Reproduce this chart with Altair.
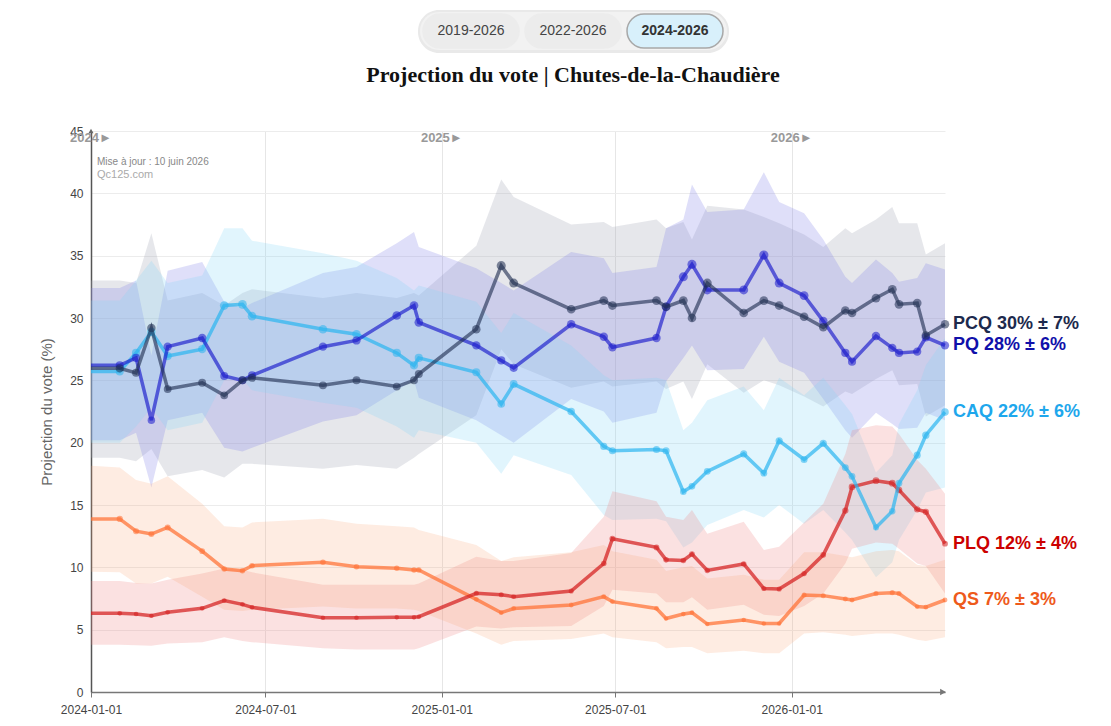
import altair as alt
import pandas as pd

# ---------------- data ----------------
dates = ["2024-01-01", "2024-01-31", "2024-02-17", "2024-03-04", "2024-03-21", "2024-04-26",
         "2024-05-19", "2024-06-07", "2024-06-17", "2024-08-30", "2024-10-04", "2024-11-15",
         "2024-12-03", "2024-12-08", "2025-02-06", "2025-03-04", "2025-03-17", "2025-05-16",
         "2025-06-19", "2025-06-28", "2025-08-13", "2025-08-23", "2025-09-10", "2025-09-19",
         "2025-10-05", "2025-11-12", "2025-12-03", "2025-12-19", "2026-01-14", "2026-02-03",
         "2026-02-26", "2026-03-05", "2026-03-30", "2026-04-16", "2026-04-23", "2026-05-12",
         "2026-05-21", "2026-06-10"]

pcq = [25.96, 25.96, 25.6, 29.2, 24.3, 24.8, 23.8, 25.0, 25.2, 24.6, 25.0, 24.5, 25.0, 25.5,
       29.1, 34.2, 32.8, 30.7, 31.4, 31.0, 31.4, 30.9, 31.4, 30.0, 32.8, 30.4, 31.4, 31.0,
       30.1, 29.25, 30.6, 30.4, 31.6, 32.3, 31.1, 31.2, 28.6, 29.5]
pcq_lo = [18.8, 18.8, 18.5, 19.5, 17.3, 17.8, 17.2, 18.3, 18.3, 17.9, 18.2, 17.9, 18.8, 19.1,
          22.2, 27.5, 26.3, 24.4, 24.9, 24.5, 24.9, 24.3, 24.9, 23.5, 26.3, 24.0, 25.0, 24.6,
          23.7, 22.9, 24.1, 23.9, 25.1, 25.8, 24.6, 24.7, 22.1, 23.0]
pcq_hi = [33.0, 33.0, 32.8, 36.8, 31.4, 32.0, 31.0, 32.0, 32.3, 31.6, 32.0, 31.6, 32.0, 31.8,
          35.8, 41.1, 39.7, 37.5, 37.7, 37.3, 37.9, 37.2, 37.7, 36.3, 39.0, 38.7, 38.1, 37.6,
          36.7, 35.7, 37.2, 36.8, 37.9, 38.9, 37.6, 37.6, 35.1, 36.0]

pq = [26.2, 26.2, 26.8, 21.8, 27.7, 28.4, 25.35, 25.0, 25.4, 27.7, 28.2, 30.2, 31.0, 29.65,
      27.8, 26.6, 26.0, 29.5, 28.5, 27.65, 28.4, 30.9, 33.3, 34.3, 32.25, 32.25, 35.05, 32.8,
      31.8, 29.75, 27.2, 26.5, 28.55, 27.6, 27.2, 27.3, 28.45, 27.8]
pq_lo = [20.2, 20.2, 20.8, 16.4, 21.8, 22.4, 19.6, 19.3, 19.6, 21.7, 22.2, 24.2, 25.0, 23.6,
         21.8, 20.6, 20.0, 23.5, 22.5, 21.6, 22.4, 24.9, 26.8, 27.8, 25.8, 25.9, 28.5, 26.5,
         25.6, 23.5, 21.0, 20.4, 22.4, 21.5, 21.1, 21.2, 22.4, 21.8]
pq_hi = [32.4, 32.4, 33.0, 27.0, 33.8, 34.5, 31.3, 30.8, 31.2, 33.6, 34.1, 36.0, 36.9, 35.7,
         34.0, 32.8, 32.2, 35.3, 34.8, 33.6, 34.1, 37.2, 37.9, 40.7, 38.5, 38.7, 41.7, 39.3,
         38.4, 36.3, 33.3, 32.8, 34.7, 33.6, 32.9, 33.2, 34.4, 33.9]

caq = [25.7, 25.7, 27.2, 28.9, 26.95, 27.5, 31.0, 31.1, 30.15, 29.1, 28.7, 27.2, 26.2, 26.8,
       25.65, 23.1, 24.7, 22.5, 19.7, 19.35, 19.45, 19.35, 16.07, 16.5, 17.7, 19.1, 17.55,
       20.15, 18.65, 19.95, 18.0, 17.3, 13.2, 14.5, 16.75, 19.0, 20.6, 22.45]
caq_lo = [20.0, 20.0, 21.3, 22.8, 21.0, 21.6, 25.0, 25.1, 24.2, 23.2, 22.8, 21.3, 20.4, 21.0,
          20.0, 17.5, 19.0, 17.4, 14.2, 13.8, 13.9, 13.7, 11.6, 12.0, 13.4, 14.6, 14.0, 15.0,
          13.5, 14.6, 12.8, 12.2, 9.2, 10.4, 12.2, 14.6, 16.0, 16.4]
caq_hi = [31.4, 31.4, 33.0, 34.6, 32.8, 33.4, 37.2, 37.2, 36.2, 35.2, 34.6, 33.2, 32.2, 32.6,
          31.3, 28.8, 30.4, 27.8, 25.4, 25.0, 25.2, 25.0, 21.0, 21.6, 23.4, 24.5, 22.6, 25.2,
          23.8, 25.2, 23.0, 22.3, 17.6, 19.0, 21.5, 24.2, 26.2, 28.4]

plq = [6.31, 6.31, 6.26, 6.12, 6.39, 6.71, 7.33, 7.03, 6.79, 5.96, 5.96, 5.99, 5.99, 6.04,
       7.92, 7.8, 7.65, 8.1, 10.3, 12.3, 11.6, 10.6, 10.55, 11.07, 9.75, 10.27, 8.3, 8.26,
       9.5, 11.0, 14.55, 16.45, 16.95, 16.75, 16.2, 14.65, 14.45, 11.9]
plq_lo = [3.8, 3.8, 3.75, 3.7, 3.9, 4.0, 4.4, 4.1, 4.0, 3.5, 3.4, 3.4, 3.4, 3.5,
          5.25, 5.1, 5.2, 5.3, 6.9, 8.2, 7.9, 7.2, 7.2, 7.6, 6.6, 7.0, 6.2, 6.1,
          6.9, 7.9, 10.3, 11.5, 12.0, 11.9, 11.5, 10.3, 10.1, 7.9]
plq_hi = [8.9, 8.9, 8.75, 8.7, 9.0, 9.5, 9.9, 9.8, 9.6, 8.6, 8.6, 8.6, 8.6, 8.7,
          10.85, 10.5, 10.5, 11.15, 14.05, 16.1, 15.3, 14.05, 13.8, 14.6, 12.7, 13.65, 11.4,
          11.65, 13.6, 15.1, 19.1, 21.0, 21.4, 21.3, 20.7, 18.6, 17.9, 15.9]

qs = [13.88, 13.88, 12.9, 12.67, 13.2, 11.3, 9.87, 9.73, 10.13, 10.4, 10.05, 9.92, 9.79, 9.79,
      7.43, 6.36, 6.7, 6.98, 7.65, 7.25, 6.7, 5.9, 6.25, 6.36, 5.45, 5.78, 5.5, 5.5,
      7.78, 7.73, 7.46, 7.38, 7.9, 7.97, 7.9, 6.85, 6.8, 7.38]
qs_lo = [9.65, 9.6, 8.7, 8.7, 9.25, 7.65, 6.6, 6.5, 6.6, 6.85, 6.7, 6.7, 6.6, 6.5,
         4.7, 3.8, 4.1, 4.25, 4.7, 4.4, 4.0, 3.5, 3.6, 3.6, 3.1, 3.3, 3.1, 3.1,
         4.7, 4.8, 4.6, 4.5, 4.7, 4.7, 4.6, 4.2, 4.1, 4.4]
qs_hi = [18.15, 18.0, 17.0, 16.7, 17.3, 15.1, 13.3, 13.2, 13.6, 13.9, 13.5, 13.3, 13.2, 13.0,
         11.8, 10.5, 10.8, 11.2, 11.8, 11.3, 10.6, 9.7, 10.0, 10.1, 9.1, 9.4, 9.0, 9.0,
         11.2, 11.2, 10.9, 10.8, 11.3, 11.4, 11.3, 10.2, 10.1, 10.6]

parties = ["PCQ", "PQ", "CAQ", "PLQ", "QS"]
series = {"PCQ": (pcq, pcq_lo, pcq_hi), "PQ": (pq, pq_lo, pq_hi), "CAQ": (caq, caq_lo, caq_hi),
          "PLQ": (plq, plq_lo, plq_hi), "QS": (qs, qs_lo, qs_hi)}
label_texts = ["PCQ 30% ± 7%", "PQ 28% ± 6%", "CAQ 22% ± 6%", "PLQ 12% ± 4%", "QS 7% ± 3%"]
year_texts = ["2024►", "2025►", "2026►"]
year_dates = ["2024-01-01", "2025-01-01", "2026-01-01"]
axis_dates = ["2024-01-01", "2024-07-01", "2025-01-01", "2025-07-01", "2026-01-01"]
buttons = ["2019-2026", "2022-2026", "2024-2026"]
title_text = "Projection du vote | Chutes-de-la-Chaudière"
update_text = "Mise à jour : 10 juin 2026"
site_text = "Qc125.com"

# ---------------- styles ----------------
line_col = {"PCQ": "#1f2d50", "PQ": "#1a1acc", "CAQ": "#2bb5ef", "PLQ": "#d41f1f", "QS": "#ff7033"}
line_op = {"PCQ": 0.62, "PQ": 0.66, "CAQ": 0.7, "PLQ": 0.72, "QS": 0.72}
band_col = {"PCQ": "#9ea3b0", "PQ": "#8080e6", "CAQ": "#80d4f8", "PLQ": "#ee8080", "QS": "#fba070"}
band_op = {"PCQ": 0.26, "PQ": 0.25, "CAQ": 0.24, "PLQ": 0.24, "QS": 0.2}
label_col = ["#1d2a4d", "#1010aa", "#1ea7ec", "#cc0000", "#ee5a1b"]
FONT = "Liberation Sans"


def dt(s):
    y, m, d = (int(v) for v in s.split("-"))
    return alt.DateTime(year=y, month=m, date=d, utc=True)


xscale = alt.Scale(type="utc", domain=[dt(dates[0]), dt(dates[-1])])
xaxis = alt.Axis(values=[dt(s) for s in axis_dates],
                 labelExpr="utcFormat(datum.value, '%Y-%m-%d')",
                 grid=True, gridColor="#e6e6e6", tickColor="#777", tickSize=5,
                 domainColor="#777", domainWidth=1.5, labelColor="#444", labelFontSize=12,
                 labelFont=FONT, labelPadding=7, labelFlush=False, labelOverlap=False)
yscale = alt.Scale(domain=[0, 45], nice=False)
yaxis = alt.Axis(values=list(range(0, 50, 5)), grid=True, gridColor="#ececec", ticks=False,
                 domainColor="#555", domainWidth=1.5, labelColor="#444", labelFontSize=12,
                 labelFont=FONT, labelPadding=8, titleFont=FONT, titleFontSize=15,
                 titleColor="#666", titleFontWeight="normal", titlePadding=15)
YT = "Projection du vote (%)"
X = alt.X("date:T", scale=xscale, axis=xaxis, title=None)


def Y(field):
    return alt.Y(f"{field}:Q", scale=yscale, axis=yaxis, title=YT)


frames = {}
for p in parties:
    v, lo, hi = series[p]
    frames[p] = pd.DataFrame({"date": dates, "value": v, "lo": lo, "hi": hi})

layers = []
# uncertainty bands
for p in parties:
    layers.append(alt.Chart(frames[p]).mark_area(color=band_col[p], opacity=band_op[p])
                  .encode(x=X, y=Y("lo"), y2="hi:Q"))
# lines + points
size_enc = alt.Size("value:Q", scale=alt.Scale(domain=[0, 35], range=[8, 85]), legend=None)
for p in ["QS", "PLQ", "CAQ", "PQ", "PCQ"]:
    layers.append(alt.Chart(frames[p]).mark_line(color=line_col[p], strokeWidth=3.5,
                                                 opacity=line_op[p])
                  .encode(x=X, y=Y("value")))
    layers.append(alt.Chart(frames[p].iloc[1:]).mark_circle(color=line_col[p], opacity=0.55)
                  .encode(x=X, y=Y("value"), size=size_enc))

# end labels
lab_df = pd.DataFrame({"party": parties, "date": [dates[-1]] * 5,
                       "value": [series[p][0][-1] for p in parties], "t": label_texts})
layers.append(alt.Chart(lab_df).mark_text(align="left", baseline="middle", dx=8, fontSize=18,
                                          fontWeight="bold", font=FONT)
              .encode(x=X, y=Y("value"), text="t:N",
                      color=alt.Color("party:N", scale=alt.Scale(domain=parties, range=label_col),
                                      legend=None)))

# year markers along the top
yr_df = pd.DataFrame({"date": year_dates, "t": year_texts})
layers.append(alt.Chart(yr_df).mark_text(fontSize=13, fontWeight="bold", color="#999",
                                         font=FONT, baseline="middle")
              .encode(x=X, y=alt.value(7), text="t:N"))

# axis arrows
arr_x = pd.DataFrame({"date": [dates[-1]], "value": [0]})
arr_y = pd.DataFrame({"date": [dates[0]], "value": [45]})
layers.append(alt.Chart(arr_x).mark_point(shape="triangle-right", filled=True, color="#777",
                                          size=45, opacity=1, xOffset=-2)
              .encode(x=X, y=Y("value")))
layers.append(alt.Chart(arr_y).mark_point(shape="triangle-up", filled=True, color="#666",
                                          size=25, opacity=1)
              .encode(x=X, y=Y("value")))

# small annotations
layers.append(alt.Chart(pd.DataFrame({"t": [update_text]})).mark_text(
    align="left", baseline="middle", fontSize=10, color="#888", font=FONT)
    .encode(x=alt.value(6), y=alt.value(31), text="t:N"))
layers.append(alt.Chart(pd.DataFrame({"t": [site_text]})).mark_text(
    align="left", baseline="middle", fontSize=11, color="#aaa", font=FONT)
    .encode(x=alt.value(6), y=alt.value(44), text="t:N"))

# title
layers.append(alt.Chart(pd.DataFrame({"t": [title_text]})).mark_text(
    align="center", baseline="middle", fontSize=22, fontWeight="bold", color="#111",
    font="Liberation Serif")
    .encode(x=alt.value(482), y=alt.value(-56), text="t:N"))

# range buttons (UI decoration)
layers.append(alt.Chart(pd.DataFrame({"b": [0]})).mark_rect(
    fill="#e9e9e9", cornerRadius=21)
    .encode(x=alt.value(327), x2=alt.value(638), y=alt.value(-121), y2=alt.value(-78)))
layers.append(alt.Chart(pd.DataFrame({"b": [0]})).mark_rect(
    fill="#f2f2f2", cornerRadius=20)
    .encode(x=alt.value(329), x2=alt.value(636), y=alt.value(-119), y2=alt.value(-81)))
centers = [380, 482, 584]
for i, b in enumerate(buttons):
    sel = i == 2
    cx = centers[i]
    layers.append(alt.Chart(pd.DataFrame({"b": [b]})).mark_rect(
        fill="#d8f0fb" if sel else "#ececec", stroke="#a8a8a8" if sel else "#ececec",
        strokeWidth=1.5, cornerRadius=17)
        .encode(x=alt.value(cx - 48), x2=alt.value(cx + 48), y=alt.value(-117), y2=alt.value(-83)))
    layers.append(alt.Chart(pd.DataFrame({"b": [b]})).mark_text(
        fontSize=14, font=FONT, fontWeight="bold" if sel else "normal",
        color="#333" if sel else "#444", baseline="middle")
        .encode(x=alt.value(cx), y=alt.value(-100), text="b:N"))

chart = alt.layer(*layers).properties(
    width=854, height=561,
    autosize=alt.AutoSizeParams(type="none"),
    padding={"left": 83, "top": 123, "right": 145, "bottom": 30},
    background="white",
).configure_view(stroke=None)

chart.save("out.html", embed_options={"renderer": "svg", "actions": False})
